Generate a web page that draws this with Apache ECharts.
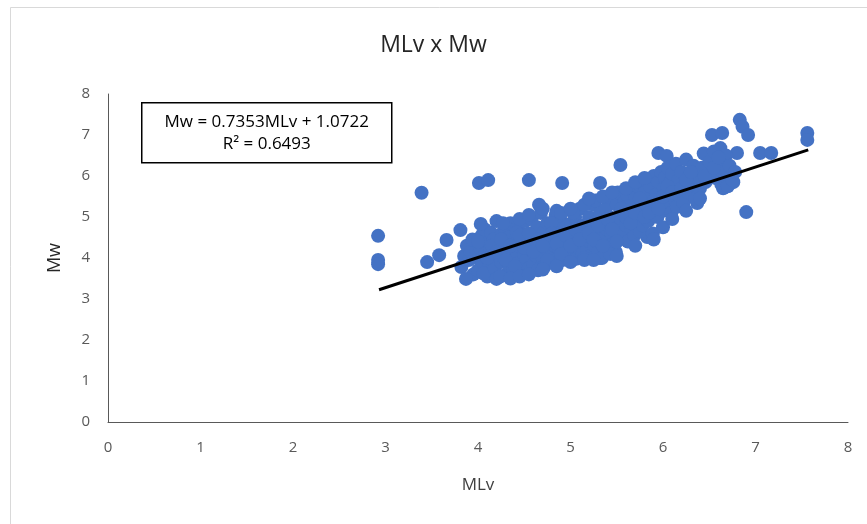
<!DOCTYPE html>
<html>
<head>
<meta charset="utf-8">
<script src="https://cdn.jsdelivr.net/npm/echarts@6/dist/echarts.min.js"></script>
<style>
  html, body { margin: 0; padding: 0; background: #fff; }
  #chart { width: 867px; height: 524px; }
</style>
</head>
<body>
<div id="chart"></div>
<script>
// axis ticks
const xTicks = [0, 1, 2, 3, 4, 5, 6, 7, 8];
const yTicks = [0, 1, 2, 3, 4, 5, 6, 7, 8];

// trendline from the fitted equation
const slope = 0.7353;
const intercept = 1.0722;
const r2 = 0.6493;
const trendX = [2.93, 7.57];

// scatter points [MLv, Mw]
const outliers = [
  [2.92, 4.54], [2.92, 3.95], [2.92, 3.85], [3.39, 5.59], [3.45, 3.9], [3.58, 4.07],
  [3.66, 4.44], [3.81, 4.68], [4.01, 5.83], [4.11, 5.9], [4.55, 5.9], [4.91, 5.83],
  [5.32, 5.83], [5.54, 6.27], [5.95, 6.56], [6.04, 6.49], [6.53, 7.0], [6.64, 7.05],
  [6.83, 7.37], [6.86, 7.2], [6.92, 7.0], [6.8, 6.56], [6.62, 6.68], [7.05, 6.56],
  [7.17, 6.56], [7.56, 7.05], [7.56, 6.88], [6.9, 5.12], [6.37, 5.34], [5.83, 4.51],
  [5.32, 4.0], [5.46, 4.12], [6.69, 6.07], [6.76, 5.85], [6.65, 5.7]
];
const lowBand = [
  [3.82, 3.78], [3.85, 4.05], [3.88, 4.3], [3.9, 3.95], [3.92, 4.15], [3.95, 3.6], [3.87, 3.49],
  [3.94, 4.45], [3.97, 4.02], [4.0, 3.7], [4.02, 4.25], [4.04, 4.55], [4.05, 3.9], [4.07, 4.7],
  [4.08, 4.1], [4.1, 3.55], [4.11, 4.38], [4.12, 3.82], [4.14, 4.62], [4.15, 4.0], [4.03, 4.83],
  [4.13, 4.2], [4.06, 3.62], [4.17, 4.45], [4.18, 3.75], [4.2, 3.49], [4.2, 4.9], [4.22, 4.1],
  [4.23, 4.3], [4.25, 3.9], [4.26, 4.6], [4.28, 4.0], [4.29, 4.72], [4.3, 3.6], [4.31, 4.22],
  [4.33, 4.5], [4.34, 3.82], [4.35, 4.85], [4.27, 4.85], [4.24, 3.55], [4.37, 4.15], [4.38, 3.7],
  [4.4, 4.4], [4.41, 4.0], [4.43, 4.75], [4.44, 3.88], [4.45, 4.28], [4.47, 3.62], [4.48, 4.58],
  [4.5, 4.1], [4.51, 4.9], [4.52, 3.95], [4.54, 4.45], [4.55, 3.75], [4.42, 4.62], [4.49, 4.3]
];
const midBand = [
  [4.57, 4.2], [4.58, 4.95], [4.6, 3.85], [4.61, 4.55], [4.63, 4.05], [4.64, 4.75], [4.65, 3.7],
  [4.67, 4.35], [4.68, 5.1], [4.7, 4.0], [4.71, 4.62], [4.72, 3.8], [4.74, 4.25], [4.75, 4.85],
  [4.66, 5.3], [4.62, 4.4], [4.77, 4.1], [4.78, 4.5], [4.8, 3.9], [4.81, 4.72], [4.83, 4.3],
  [4.84, 5.05], [4.86, 4.0], [4.87, 4.6], [4.88, 4.2], [4.9, 4.9], [4.91, 3.95], [4.92, 4.45],
  [4.94, 4.15], [4.95, 4.75], [4.85, 5.15], [4.79, 4.85], [4.97, 4.3], [4.98, 4.05], [5.0, 4.6],
  [5.01, 4.85], [5.02, 4.15], [5.04, 4.4], [5.05, 5.0], [5.06, 3.98], [5.08, 4.7], [5.09, 4.25],
  [5.1, 5.2], [5.12, 4.5], [5.13, 4.1], [5.14, 4.8], [5.15, 4.35], [5.03, 5.1], [5.17, 4.6],
  [5.18, 4.2], [5.2, 5.0], [5.21, 4.4], [5.22, 4.05], [5.24, 4.75], [5.25, 5.3], [5.26, 4.3],
  [5.28, 4.9], [5.29, 4.55], [5.3, 4.15], [5.32, 5.1], [5.33, 4.65], [5.34, 4.0], [5.35, 4.85],
  [5.27, 5.4], [5.31, 4.4]
];
const highBand = [
  [5.37, 4.5], [5.38, 5.2], [5.4, 4.7], [5.41, 4.25], [5.42, 5.0], [5.44, 4.6], [5.45, 5.45],
  [5.46, 4.35], [5.48, 4.85], [5.49, 4.15], [5.5, 5.3], [5.52, 4.75], [5.53, 4.45], [5.54, 5.1],
  [5.55, 4.9], [5.43, 4.1], [5.51, 5.6], [5.57, 4.6], [5.58, 5.35], [5.6, 4.8], [5.61, 5.55],
  [5.62, 4.4], [5.64, 5.05], [5.65, 5.7], [5.66, 4.7], [5.68, 5.2], [5.69, 4.55], [5.7, 5.45],
  [5.72, 4.95], [5.73, 5.75], [5.74, 5.15], [5.75, 4.65], [5.63, 5.25], [5.77, 5.35], [5.78, 4.8],
  [5.8, 5.6], [5.81, 5.1], [5.82, 5.9], [5.84, 4.9], [5.85, 5.45], [5.86, 5.75], [5.88, 5.2],
  [5.89, 4.6], [5.9, 6.0], [5.92, 5.3], [5.93, 5.55], [5.94, 5.0], [5.95, 5.85], [5.83, 5.25],
  [5.97, 5.4], [5.98, 6.1], [6.0, 5.15], [6.01, 5.7], [6.02, 5.95], [6.04, 5.3], [6.05, 6.2],
  [6.06, 5.55], [6.08, 5.85], [6.09, 5.1], [6.1, 6.05], [6.12, 5.45], [6.13, 5.7], [6.14, 6.3],
  [6.15, 5.25], [6.17, 5.9], [6.18, 5.5], [6.2, 6.1], [6.22, 5.35], [6.24, 5.75], [6.25, 6.4],
  [6.27, 5.6], [6.29, 6.0], [6.3, 5.8], [6.33, 6.25], [6.35, 5.45], [6.37, 6.1], [6.38, 5.95],
  [6.42, 6.2], [6.44, 6.55], [6.46, 5.85], [6.5, 6.35], [6.52, 6.05], [6.55, 6.6], [6.57, 5.95],
  [6.6, 6.3], [6.63, 5.8], [6.65, 6.1], [6.68, 6.5], [6.7, 5.75], [6.72, 6.25], [6.75, 5.9], [6.78, 6.1]
];
const coreFill = [
  [4.0, 4.4], [4.1, 4.0], [4.15, 4.3], [4.2, 4.15], [4.25, 4.45], [4.3, 3.95], [4.35, 4.3],
  [4.4, 3.8], [4.45, 4.55], [4.5, 4.25], [4.55, 4.6], [4.6, 4.15], [4.65, 4.45], [4.7, 4.3],
  [4.75, 3.95], [4.8, 4.6], [4.85, 4.35], [4.9, 4.1], [4.95, 4.55], [5.0, 4.3], [5.05, 4.7],
  [5.1, 4.45], [5.15, 4.0], [5.2, 4.6], [5.25, 4.45], [5.3, 4.8], [5.35, 4.3], [5.4, 4.95],
  [5.45, 4.7], [5.5, 4.4], [5.55, 5.2], [5.6, 5.0], [5.65, 4.85], [5.7, 5.1], [5.75, 5.45],
  [5.8, 5.0], [5.85, 5.1], [5.9, 5.4], [5.95, 5.2], [6.0, 5.5], [6.05, 5.75], [6.1, 5.6],
  [6.2, 5.7], [6.25, 5.9], [6.3, 6.1], [6.4, 5.7], [6.45, 6.0], [6.55, 6.2], [6.6, 6.45]
];
const edgeFill = [
  [4.45, 4.95], [4.55, 5.05], [4.7, 5.2], [4.9, 5.1], [5.0, 5.2], [5.15, 5.3], [5.2, 5.45],
  [5.35, 5.5], [5.45, 5.6], [5.6, 5.7], [5.7, 5.85], [5.8, 5.95], [4.35, 3.5], [4.45, 3.55],
  [4.55, 3.6], [4.7, 3.72], [4.85, 3.8], [5.0, 3.9], [5.15, 3.95], [5.25, 3.95], [5.5, 4.05],
  [5.7, 4.3], [5.9, 4.45], [6.0, 4.75], [6.1, 4.95], [6.25, 5.15], [6.4, 5.45]
];

const points = outliers.concat(lowBand, midBand, highBand, coreFill, edgeFill);
const trendData = trendX.map(x => [x, slope * x + intercept]);

const font = '"Open Sans", "Liberation Sans", sans-serif';
const chart = echarts.init(document.getElementById('chart'));

chart.setOption({
  animation: false,
  backgroundColor: '#fff',
  title: {
    text: 'MLv x Mw',
    left: 'center',
    top: 29,
    textStyle: { fontFamily: font, fontSize: 23, fontWeight: 'normal', color: '#262626' }
  },
  grid: { left: 108, right: 19, top: 94, bottom: 102 },
  xAxis: {
    type: 'value',
    min: xTicks[0],
    max: xTicks[xTicks.length - 1],
    interval: 1,
    name: 'MLv',
    nameLocation: 'middle',
    nameGap: 55,
    nameTextStyle: { fontFamily: font, fontSize: 17, color: '#404040' },
    axisLine: { lineStyle: { color: '#595959', width: 1 } },
    axisTick: { show: false },
    splitLine: { show: false },
    axisLabel: { fontFamily: font, fontSize: 15, color: '#595959', margin: 18 }
  },
  yAxis: {
    type: 'value',
    min: yTicks[0],
    max: yTicks[yTicks.length - 1],
    interval: 1,
    name: 'Mw',
    nameLocation: 'middle',
    nameGap: 44,
    nameTextStyle: { fontFamily: font, fontSize: 18, color: '#262626' },
    axisLine: { show: true, lineStyle: { color: '#595959', width: 1 } },
    axisTick: { show: false },
    splitLine: { show: false },
    axisLabel: { fontFamily: font, fontSize: 15, color: '#595959', margin: 18 }
  },
  series: [
    {
      type: 'scatter',
      data: points,
      symbolSize: 14,
      itemStyle: { color: '#4472C4', opacity: 1 },
      z: 2
    },
    {
      type: 'line',
      data: trendData,
      symbol: 'none',
      lineStyle: { color: '#000', width: 3 },
      z: 3
    }
  ],
  graphic: [
    {
      type: 'rect',
      left: 8, top: 5,
      shape: { width: 860, height: 530 },
      style: { fill: 'none', stroke: '#d9d9d9', lineWidth: 1 },
      silent: true
    },
    {
      type: 'group',
      left: 141, top: 102,
      children: [
        {
          type: 'rect',
          shape: { x: 0, y: 0, width: 250, height: 60 },
          style: { fill: '#fff', stroke: '#000', lineWidth: 1.5 }
        },
        {
          type: 'text',
          x: 125, y: 30,
          style: {
            text: 'Mw = ' + slope + 'MLv + ' + intercept + '\nR² = ' + r2,
            align: 'center',
            verticalAlign: 'middle',
            fontFamily: font,
            fontSize: 17,
            lineHeight: 22,
            fill: '#000'
          }
        }
      ],
      z: 10
    }
  ]
});
</script>
</body>
</html>
